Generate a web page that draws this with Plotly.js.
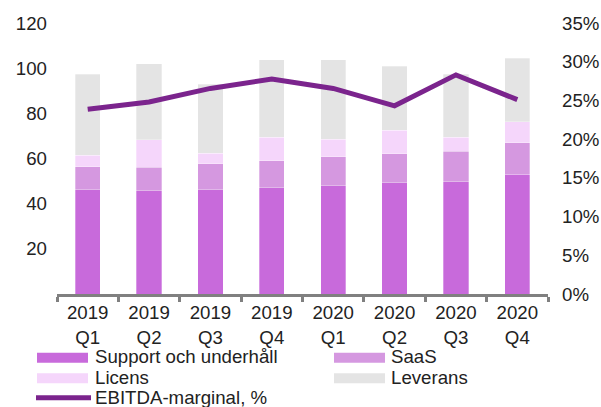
<!DOCTYPE html>
<html>
<head>
<meta charset="utf-8">
<script src="https://cdn.plot.ly/plotly-3.0.1.min.js"></script>
<style>html,body{margin:0;padding:0;background:#fff;}#chart{width:601px;height:407px;}</style>
</head>
<body>
<div id="chart"></div>
<script>
const quarters = ['2019<br>Q1','2019<br>Q2','2019<br>Q3','2019<br>Q4','2020<br>Q1','2020<br>Q2','2020<br>Q3','2020<br>Q4'];
const support  = [46.1, 45.8, 46.1, 47.0, 48.0, 49.2, 49.8, 53.0];
const saas     = [10.3, 10.4, 11.6, 11.9, 12.8, 12.8, 13.5, 14.0];
const licens   = [5.1, 12.0, 4.7, 10.6, 7.8, 10.6, 6.2, 9.2];
const leverans = [35.8, 33.8, 30.5, 34.2, 35.1, 28.3, 27.8, 28.1];
const ebitda   = [0.2385, 0.248, 0.2655, 0.2775, 0.2655, 0.243, 0.283, 0.251];
const leftTicks = [20, 40, 60, 80, 100, 120];
const rightTicks = [0, 0.05, 0.10, 0.15, 0.20, 0.25, 0.30, 0.35];

const names = ['Support och underhåll', 'SaaS', 'Licens', 'Leverans', 'EBITDA-marginal, %'];
const colors = ['#c86adb', '#d598e0', '#f5d6fb', '#e4e4e4', '#7b248d'];
const font = 'Liberation Sans, Arial, sans-serif';
const txt = '#222222';
const fs = 18.67;

const barSeries = [support, saas, licens, leverans];
const traces = barSeries.map((v, i) => ({
  type: 'bar', x: quarters, y: v, name: names[i], width: 0.41,
  marker: {color: colors[i], line: {color: 'rgba(255,255,255,0.6)', width: 0.5}},
  showlegend: false, hoverinfo: 'skip'
}));
traces.push({
  type: 'scatter', mode: 'lines', x: quarters, y: ebitda, yaxis: 'y2', name: names[4],
  line: {color: colors[4], width: 5}, showlegend: false, hoverinfo: 'skip'
});

// plot area in pixels
const W = 601, H = 407, L = 57, R = 548, T = 22.7, B = 294.5;
const px = x => (x - L) / (R - L);
const py = y => (B - y) / (B - T);

// custom legend (two columns, wide swatches)
const shapes = [], annotations = [];
const legendPos = [
  {sx: 37, sy: 358.5, tx: 93, ty: 357},
  {sx: 334, sy: 358.5, tx: 389, ty: 357},
  {sx: 37, sy: 379, tx: 93, ty: 378},
  {sx: 334, sy: 379, tx: 389, ty: 378},
  {sx: 36, sy: 398.5, tx: 93, ty: 398}
];
names.forEach((n, i) => {
  const p = legendPos[i];
  if (i < 4) {
    shapes.push({type: 'rect', xref: 'paper', yref: 'paper', x0: px(p.sx), x1: px(p.sx + 51),
      y0: py(p.sy - 5), y1: py(p.sy + 5), fillcolor: colors[i], line: {width: 0}});
  } else {
    shapes.push({type: 'line', xref: 'paper', yref: 'paper', x0: px(p.sx), x1: px(p.sx + 55),
      y0: py(p.sy), y1: py(p.sy), line: {color: colors[i], width: 5}});
  }
  annotations.push({xref: 'paper', yref: 'paper', x: px(p.tx), y: py(p.ty), xanchor: 'left', yanchor: 'middle',
    text: n, showarrow: false, font: {family: font, size: fs, color: txt}});
});

const layout = {
  width: W, height: H,
  margin: {l: L, r: W - R, t: T, b: H - B},
  paper_bgcolor: '#fff', plot_bgcolor: '#fff',
  barmode: 'stack', showlegend: false,
  font: {family: font, size: fs, color: txt},
  xaxis: {
    type: 'category', range: [-0.5, 7.5], showline: true, linecolor: '#808080', linewidth: 3,
    ticks: 'outside', tickson: 'boundaries', ticklen: 5, tickwidth: 3, tickcolor: '#808080',
    showgrid: false, zeroline: false, tickfont: {family: font, size: fs, color: txt}
  },
  yaxis: {
    range: [0, 120], tickvals: leftTicks, ticktext: leftTicks.map(String), showgrid: false, zeroline: false,
    showline: false, ticks: '', ticklabelstandoff: 9, tickfont: {family: font, size: fs, color: txt}
  },
  yaxis2: {
    overlaying: 'y', side: 'right', range: [0, 0.35], tickvals: rightTicks,
    ticktext: rightTicks.map(v => Math.round(v * 100) + '%'), showgrid: false, zeroline: false,
    showline: false, ticks: '', ticklabelstandoff: 13, tickfont: {family: font, size: fs, color: txt}
  },
  shapes: shapes, annotations: annotations
};

Plotly.newPlot('chart', traces, layout, {staticPlot: true, displayModeBar: false});
</script>
</body>
</html>
